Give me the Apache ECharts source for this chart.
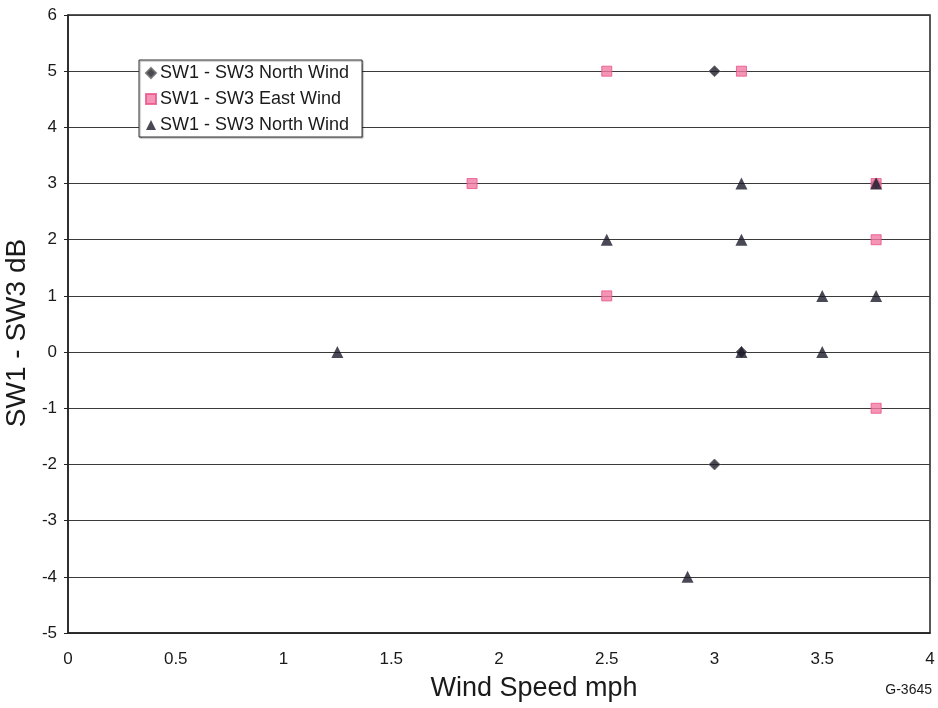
<!DOCTYPE html>
<html>
<head>
<meta charset="utf-8">
<script src="https://cdn.jsdelivr.net/npm/echarts@6/dist/echarts.min.js"></script>
<style>
  html, body { margin: 0; padding: 0; background: #fff; }
  #chart { width: 938px; height: 708px; }
</style>
</head>
<body>
<div id="chart"></div>
<script>
// Wind speed (mph) vs SW1 - SW3 level difference (dB)
const northWindA = [[3.0, 5], [3.125, 0], [3.0, -2], [3.75, 3]];
const eastWind = [[2.5, 5], [3.125, 5], [1.875, 3], [3.75, 3], [3.75, 2], [2.5, 1], [3.75, -1]];
const northWindB = [[3.125, 3], [3.75, 3], [2.5, 2], [3.125, 2], [3.5, 1], [3.75, 1],
                    [1.25, 0], [3.125, 0], [3.5, 0], [2.875, -4]];

const seriesNames = ['SW1 - SW3 North Wind', 'SW1 - SW3 East Wind', 'SW1 - SW3 North Wind '];
const xTicks = { min: 0, max: 4, interval: 0.5 };
const yTicks = { min: -5, max: 6, interval: 1 };

const chart = echarts.init(document.getElementById('chart'), null, { renderer: 'canvas' });

const font = 'Arial, "Liberation Sans", sans-serif';

chart.setOption({
  animation: false,
  backgroundColor: '#ffffff',
  grid: {
    left: 68, right: 8, top: 15, bottom: 75,
    containLabel: false, outerBoundsMode: 'none',
    show: true, borderColor: '#222', borderWidth: 1.5, backgroundColor: 'transparent'
  },
  xAxis: {
    type: 'value',
    min: xTicks.min, max: xTicks.max, interval: xTicks.interval,
    name: 'Wind Speed mph',
    nameLocation: 'middle',
    nameGap: 42,
    nameTextStyle: { fontFamily: font, fontSize: 27, color: '#1a1a1a', padding: [0, 0, 0, 70] },
    axisLine: { show: true, onZero: false, lineStyle: { color: '#222', width: 1.5 } },
    axisTick: { show: false },
    axisLabel: { fontFamily: font, fontSize: 17, color: '#1a1a1a', margin: 18 },
    splitLine: { show: false }
  },
  yAxis: {
    type: 'value',
    min: yTicks.min, max: yTicks.max, interval: yTicks.interval,
    name: 'SW1 - SW3 dB',
    nameLocation: 'middle',
    nameGap: 35,
    nameTextStyle: { fontFamily: font, fontSize: 28, color: '#1a1a1a', padding: [0, 18, 0, 0] },
    axisLine: { show: true, onZero: false, lineStyle: { color: '#222', width: 1.5 } },
    axisTick: { show: true, length: 4, inside: false, lineStyle: { color: '#222' } },
    axisLabel: { fontFamily: font, fontSize: 17, color: '#1a1a1a', margin: 11 },
    splitLine: { show: true, lineStyle: { color: '#3a3a3a', width: 1.2 } }
  },
  legend: {
    left: 139, top: 60,
    orient: 'vertical',
    backgroundColor: '#ffffff',
    borderColor: '#333',
    borderWidth: 1,
    padding: [4, 8, 3, 6],
    itemGap: 8,
    itemWidth: 10,
    itemHeight: 10,
    shadowColor: 'rgba(0,0,0,0.35)',
    shadowOffsetX: 1, shadowOffsetY: 1, shadowBlur: 1,
    textStyle: { fontFamily: font, fontSize: 18, color: '#1a1a1a', padding: [0, 0, 0, -1] },
    data: seriesNames
  },
  series: [
    {
      name: seriesNames[0], type: 'scatter', data: northWindA,
      symbol: 'diamond', symbolSize: 11,
      itemStyle: { color: '#1c1c28', borderColor: '#666', borderWidth: 1 },
      z: 2
    },
    {
      name: seriesNames[1], type: 'scatter', data: eastWind,
      symbol: 'rect', symbolSize: 10,
      itemStyle: { color: '#f27aa2', borderColor: '#e8508a', borderWidth: 1 },
      z: 3
    },
    {
      name: seriesNames[2], type: 'scatter', data: northWindB,
      symbol: 'triangle', symbolSize: 12,
      itemStyle: { color: '#1c1c2c' },
      z: 4
    }
  ],
  graphic: [
    {
      type: 'text', right: 6, top: 683,
      style: { text: 'G-3645', font: '14px Arial, "Liberation Sans", sans-serif', fill: '#1a1a1a' }
    }
  ]
});
</script>
</body>
</html>
